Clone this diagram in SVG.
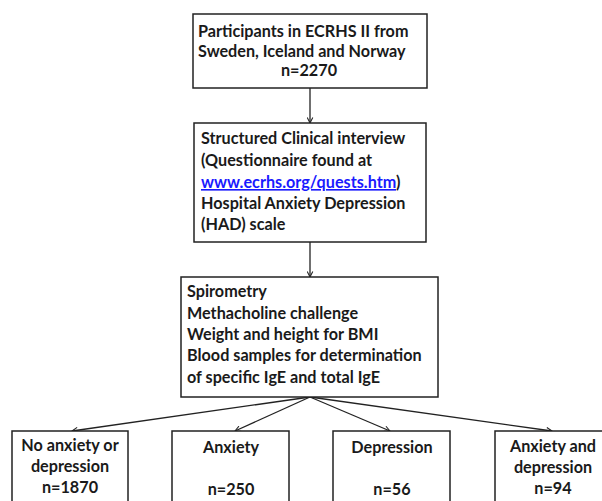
<svg xmlns="http://www.w3.org/2000/svg" width="602" height="501" viewBox="0 0 602 501">
<style>
.box{fill:#fff;stroke:#222;stroke-width:1.5}
.t{font-family:Lato,"Liberation Sans",sans-serif;font-weight:bold;font-size:16.2px;fill:#1a1a1a}
.c{text-anchor:middle}
.link{fill:#1a1aff;text-decoration:underline}
.conn{stroke:#222;stroke-width:1.3;fill:none;marker-end:url(#ah)}
</style>
<defs>
<marker id="ah" viewBox="0 0 10 10" refX="9" refY="5" markerWidth="7" markerHeight="7" markerUnits="userSpaceOnUse" orient="auto">
<path d="M1,1 L9,5 L1,9" fill="none" stroke="#222" stroke-width="1.5"/>
</marker>
</defs>
<rect width="602" height="501" fill="#fff"/>
<g id="connectors">
<line class="conn" x1="310" y1="88" x2="310" y2="123"/>
<line class="conn" x1="310" y1="242" x2="310" y2="277"/>
<line class="conn" x1="310" y1="397" x2="72" y2="431"/>
<line class="conn" x1="310" y1="397" x2="235" y2="431"/>
<line class="conn" x1="310" y1="397" x2="390" y2="431"/>
<line class="conn" x1="310" y1="397" x2="552" y2="431"/>
</g>
<g id="node1">
<rect class="box" x="193" y="14" width="234" height="74"/>
<text class="t" x="198" y="37">Participants in ECRHS II from</text>
<text class="t" x="198" y="57">Sweden, Iceland and Norway</text>
<text class="t c" x="309" y="76">n=2270</text>
</g>
<g id="node2">
<rect class="box" x="194" y="123" width="232" height="119"/>
<text class="t" x="201" y="144">Structured Clinical interview</text>
<text class="t" x="201" y="166">(Questionnaire found at</text>
<text class="t" x="201" y="188"><tspan class="link">www.ecrhs.org/quests.htm</tspan>)</text>
<text class="t" x="201" y="209">Hospital Anxiety Depression</text>
<text class="t" x="201" y="230">(HAD) scale</text>
</g>
<g id="node3">
<rect class="box" x="181" y="277" width="257" height="120"/>
<text class="t" x="187" y="297">Spirometry</text>
<text class="t" x="187" y="319">Methacholine  challenge</text>
<text class="t" x="187" y="340">Weight and height for BMI</text>
<text class="t" x="187" y="361">Blood samples for determination</text>
<text class="t" x="187" y="383">of specific IgE and total IgE</text>
</g>
<g id="node4">
<rect class="box" x="12" y="431" width="116" height="80"/>
<text class="t c" x="70" y="451">No anxiety or</text>
<text class="t c" x="70" y="472">depression</text>
<text class="t c" x="70" y="493">n=1870</text>
</g>
<g id="node5">
<rect class="box" x="172" y="431" width="117" height="80"/>
<text class="t c" x="231" y="453">Anxiety</text>
<text class="t c" x="231" y="495">n=250</text>
</g>
<g id="node6">
<rect class="box" x="333" y="431" width="117" height="80"/>
<text class="t c" x="392" y="453">Depression</text>
<text class="t c" x="392" y="495">n=56</text>
</g>
<g id="node7">
<rect class="box" x="495" y="431" width="117" height="80"/>
<text class="t c" x="553" y="452">Anxiety and</text>
<text class="t c" x="553" y="473">depression</text>
<text class="t c" x="553" y="494">n=94</text>
</g>
</svg>
